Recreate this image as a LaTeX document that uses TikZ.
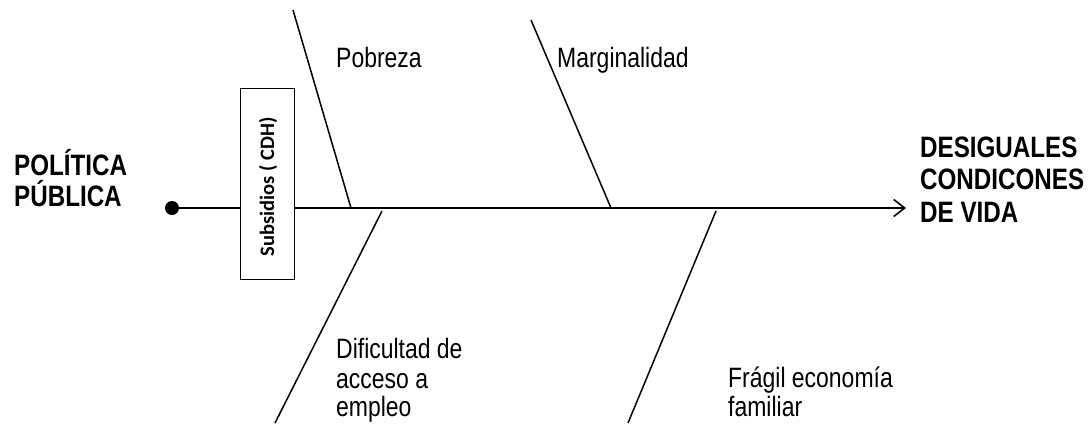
\documentclass[tikz,border=0pt]{standalone}
\usepackage{fontspec}
\setmainfont{Liberation Sans}
\newfontfamily\narrowfont[FakeStretch=0.82]{Liberation Sans}
\newfontfamily\boxfont{Carlito}
\usetikzlibrary{arrows.meta}
\begin{document}
\begin{tikzpicture}[x=1pt,y=-1pt,
  bone/.style={line width=1.5pt},
  spine/.style={line width=2pt},
  lbl/.style={anchor=base west,inner sep=0pt,font=\narrowfont\fontsize{28}{32}\selectfont},
  title/.style={anchor=base west,inner sep=0pt,font=\narrowfont\fontsize{29.5}{33}\selectfont\bfseries}]
\useasboundingbox (0,0) rectangle (1089,423);
% spine
\node[circle,fill=black,inner sep=0pt,minimum size=14pt] (dot) at (172,208) {};
\coordinate (tip) at (906,208);
\draw[spine,-{Straight Barb[length=11pt,width=17pt,line width=1.6pt]}] (dot.center) -- (tip);
% box
\node[draw,line width=0.8pt,fill=white,minimum width=54pt,minimum height=191pt,inner sep=0pt] (box) at (267,183.5) {};
\node[rotate=90,inner sep=0pt,font=\boxfont\fontsize{20.5}{24}\selectfont\bfseries] (sub) at (268,187) {Subsidios ( CDH)};
% bones
\coordinate (p1) at (293,10);  \coordinate (p2) at (351,208);
\coordinate (m1) at (531,20);  \coordinate (m2) at (611,208);
\coordinate (d1) at (382,211); \coordinate (d2) at (275,423);
\coordinate (f1) at (716,211); \coordinate (f2) at (628,423);
\draw[bone] (p1) -- (p2);
\draw[bone] (m1) -- (m2);
\draw[bone] (d1) -- (d2);
\draw[bone] (f1) -- (f2);
% labels
\node[lbl] (pob) at (336,67) {Pobreza};
\node[lbl] (mar) at (557,67) {Marginalidad};
\node[lbl] (dif1) at (336,358) {Dificultad de};
\node[lbl] (dif2) at (336,388) {acceso a};
\node[lbl] (dif3) at (336,416) {empleo};
\node[lbl] (fra1) at (728,387) {Frágil economía};
\node[lbl] (fra2) at (728,416) {familiar};
\node[title] (pol1) at (14,175) {POLÍTICA};
\node[title] (pol2) at (14,206) {PÚBLICA};
\node[title] (des1) at (920,157) {DESIGUALES};
\node[title] (des2) at (920,189.5) {CONDICONES};
\node[title] (des3) at (920,222) {DE VIDA};
\end{tikzpicture}
\end{document}
